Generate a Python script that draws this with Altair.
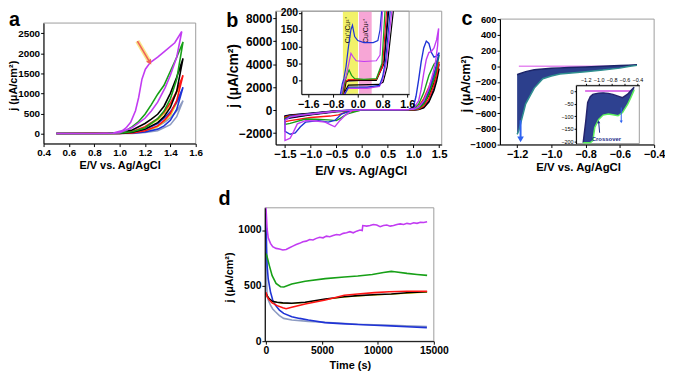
import altair as alt
import pandas as pd

FONT = "Liberation Sans"
W, H = 665, 368

# ---------------- series colours ----------------
SERIES = ["mag", "grn", "blk", "red", "yel", "blu", "gry", "nav"]
SERIES_COLORS = ["#c23cf2", "#17a017", "#000000", "#ff1414", "#e6e600", "#1f33d6", "#8d9bc2", "#141478"]
COLOR_SCALE = alt.Scale(domain=SERIES, range=SERIES_COLORS)

# ---------------- panel a : anodic LSV/CV loops ----------------
a_mag_x = [0.5, 0.8, 0.95, 1.0, 1.1, 1.2, 1.25, 1.3, 1.36, 1.4, 1.45, 1.49, 1.435, 1.357, 1.3, 1.241, 1.203, 1.176, 1.15, 1.125, 1.087, 1.05, 1.022, 0.95, 0.8, 0.5]
a_mag_y = [0, 0, 10, 20, 150, 380, 560, 780, 1150, 1450, 1900, 2540, 2260, 2054, 1900, 1765, 1601, 1354, 898, 569, 280, 140, 74, 15, 2, 0]
a_grn_x = [0.5, 0.9, 1.0, 1.1, 1.2, 1.3, 1.35, 1.4, 1.45, 1.5, 1.45, 1.4, 1.35, 1.3, 1.25, 1.2, 1.15, 1.1, 1.05, 1.0, 0.9, 0.5]
a_grn_y = [0, 0, 10, 45, 140, 370, 560, 860, 1350, 2280, 1900, 1550, 1200, 980, 720, 480, 300, 170, 70, 25, 3, 0]
a_blk_x = [0.5, 0.9, 1.0, 1.1, 1.2, 1.3, 1.35, 1.4, 1.45, 1.5, 1.45, 1.4, 1.35, 1.3, 1.25, 1.2, 1.1, 1.0, 0.9, 0.5]
a_blk_y = [0, 0, 5, 30, 110, 270, 420, 650, 1050, 1870, 1400, 1000, 680, 480, 360, 250, 90, 20, 2, 0]
a_red_x = [0.5, 1.0, 1.1, 1.2, 1.3, 1.35, 1.4, 1.45, 1.5, 1.45, 1.4, 1.35, 1.3, 1.2, 1.1, 1.0, 0.5]
a_red_y = [0, 3, 15, 70, 190, 320, 500, 820, 1450, 1050, 760, 530, 370, 170, 50, 10, 0]
a_yel_x = [0.5, 1.0, 1.1, 1.2, 1.3, 1.4, 1.45, 1.48, 1.45, 1.4, 1.35, 1.3, 1.2, 1.1, 1.0, 0.5]
a_yel_y = [0, 2, 12, 60, 160, 430, 750, 1250, 1000, 700, 480, 330, 140, 35, 8, 0]
a_blu_x = [0.5, 1.1, 1.2, 1.3, 1.35, 1.4, 1.45, 1.5, 1.45, 1.4, 1.35, 1.3, 1.2, 1.1, 1.0, 0.5]
a_blu_y = [0, 8, 40, 110, 190, 330, 600, 1150, 780, 540, 380, 250, 100, 25, 5, 0]
a_gry_x = [0.5, 1.1, 1.2, 1.3, 1.4, 1.45, 1.5, 1.45, 1.4, 1.35, 1.3, 1.2, 1.1, 1.0, 0.5]
a_gry_y = [0, 5, 25, 70, 220, 420, 820, 560, 390, 270, 180, 60, 15, 3, 0]
a_arrow_x = [1.14, 1.235]
a_arrow_y = [2300, 1790]

# ---------------- panel b : full CV ----------------
b_mag_x = [0.0, 0.5, 0.9, 1.0, 1.1, 1.15, 1.2, 1.25, 1.3, 1.35, 1.4, 1.45, 1.49, 1.47, 1.43, 1.38, 1.3, 1.2, 1.1, 1.0, 0.5, 0.0, -0.2, -0.34, -0.43, -0.53, -0.6, -0.72, -0.9, -1.1, -1.26, -1.33, -1.4, -1.5, -1.5, -1.4, -1.2, -0.9, -0.6, -0.3, 0.0]
b_mag_y = [20, 20, 20, 150, 800, 1800, 3200, 4400, 5000, 5100, 5400, 6100, 7100, 5600, 4200, 3200, 1900, 800, 250, 60, 30, 30, -50, -500, -900, -1450, -1300, -1050, -950, -920, -1200, -1850, -2450, -2650, -900, -600, -450, -300, -150, -30, 20]
b_blu_x = [0.0, 0.5, 0.9, 1.0, 1.05, 1.1, 1.15, 1.2, 1.25, 1.3, 1.35, 1.4, 1.45, 1.5, 1.45, 1.4, 1.3, 1.2, 1.1, 1.0, 0.5, 0.0, -0.2, -0.4, -0.53, -0.66, -0.85, -1.1, -1.2, -1.3, -1.4, -1.5, -1.5, -1.4, -1.2, -0.9, -0.6, -0.3, 0.0]
b_blu_y = [20, 20, 30, 300, 1200, 2600, 4200, 5400, 6000, 5800, 5000, 4600, 4700, 5000, 4000, 3100, 1800, 800, 250, 60, 30, 30, -20, -350, -900, -1050, -920, -1050, -1450, -1980, -2100, -1850, -800, -550, -420, -280, -130, -20, 20]
b_grn_x = [0.0, 0.5, 0.9, 1.0, 1.1, 1.2, 1.3, 1.4, 1.45, 1.5, 1.45, 1.4, 1.3, 1.2, 1.1, 1.0, 0.5, 0.0, -0.3, -0.4, -0.5, -0.66, -0.9, -1.1, -1.4, -1.5, -1.5, -1.4, -1.1, -0.6, 0.0]
b_grn_y = [10, 10, 20, 100, 500, 1500, 3000, 4000, 4200, 4800, 3600, 2700, 1400, 500, 150, 40, 20, 20, -350, -650, -920, -850, -800, -780, -1150, -1250, -700, -520, -380, -150, 10]
b_red_x = [0.0, 0.9, 1.0, 1.1, 1.2, 1.3, 1.4, 1.5, 1.45, 1.4, 1.3, 1.2, 1.1, 1.0, 0.0, -0.32, -0.46, -0.62, -1.0, -1.4, -1.5, -1.5, -1.4, -1.0, -0.5, 0.0]
b_red_y = [0, 10, 50, 300, 1000, 2000, 3200, 4200, 3000, 2200, 1000, 350, 80, 20, 10, -180, -420, -520, -650, -920, -1000, -600, -480, -330, -100, 0]
b_blk_x = [0.0, 0.9, 1.0, 1.1, 1.2, 1.3, 1.4, 1.5, 1.45, 1.4, 1.3, 1.2, 1.1, 1.0, 0.0, -0.5, -1.0, -1.4, -1.5, -1.5, -1.4, -1.0, -0.5, 0.0]
b_blk_y = [0, 0, 20, 150, 500, 1300, 2400, 3600, 2500, 1700, 700, 200, 50, 10, 0, -100, -380, -650, -700, -550, -450, -300, -80, 0]
b_nav_x = [0.0, 0.9, 1.0, 1.1, 1.2, 1.3, 1.4, 1.5, 1.45, 1.4, 1.3, 1.2, 1.1, 1.0, 0.0, -0.5, -1.0, -1.4, -1.5, -1.5, -1.4, -1.0, -0.5, 0.0]
b_nav_y = [0, 0, 40, 200, 700, 1600, 2800, 4000, 2900, 1900, 800, 250, 60, 10, 0, -150, -420, -700, -780, -500, -420, -280, -60, 0]

# inset of b (zoom on -40..200)
bi_blu_x = [-0.56, -0.5, -0.45, -0.38, -0.3, -0.22, -0.17, -0.1, 0.0, 0.2, 0.5, 0.65, 0.72, 0.77]
bi_blu_y = [-41, -10, 5, 40, 100, 150, 163, 130, 118, 112, 112, 118, 150, 205]
bi_mag_x = [-0.53, -0.45, -0.38, -0.3, -0.22, -0.15, -0.05, 0.2, 0.6, 0.72, 0.8]
bi_mag_y = [-41, -5, 10, 45, 80, 70, 58, 56, 58, 75, 205]
bi_grn_x = [-0.5, -0.42, -0.35, -0.28, -0.2, -0.1, 0.2, 0.6, 0.78, 0.88]
bi_grn_y = [-41, -5, 15, 31, 15, 5, 3, 5, 50, 205]
bi_red_x = [-0.48, -0.4, -0.3, 0.6, 0.8, 0.93]
bi_red_y = [-41, -3, 2, 3, 40, 205]
bi_blk_x = [-0.45, -0.38, -0.3, 0.6, 0.85, 1.0]
bi_blk_y = [-41, -5, 0, 0, 50, 205]
bi_nav_x = [-0.5, -0.4, 0.6, 0.85, 0.97]
bi_nav_y = [-41, -2, 2, 60, 205]
bi_blu_r_x = [1.05, 0.9, 0.8, 0.7, 0.3, -0.3, -0.42]
bi_blu_r_y = [205, 60, 10, -15, -20, -20, -41]
bi_mag_r_x = [1.1, 0.92, 0.8, 0.7, 0.3, -0.3, -0.44]
bi_mag_r_y = [205, 50, 0, -18, -24, -24, -41]
bi_blk_r_x = [1.15, 0.95, 0.82, 0.7, -0.3, -0.46]
bi_blk_r_y = [205, 40, -5, -12, -14, -41]
bi_yellow_band = [-0.48, 0.01]
bi_pink_band = [0.04, 0.45]
bi_labels = ["Cu⁺/Cu²⁺", "Cu/Cu²⁺"]
bi_label_x = [-0.3, 0.27]
bi_label_y = [148, 146]

# ---------------- panel c : repeated cathodic cycles (band) ----------------
c_band_x = [-1.2, -1.19, -1.15, -1.1, -1.05, -1.0, -0.95, -0.9, -0.8, -0.7, -0.6, -0.55, -0.5]
c_band_hi = [-110, -100, -70, -45, -35, -28, -22, -18, -10, 0, 8, 12, 18]
c_band_lo = [-870, -820, -480, -280, -160, -125, -100, -90, -70, -50, -25, -5, 10]
c_mag_x = [-1.19, -0.55]
c_mag_y = [0, 0]
c_arrow_x = [-1.18, -1.18]
c_arrow_y = [-690, -905]
c_head_y = -935

ci_band_x = [-1.24, -1.2, -1.17, -1.13, -1.09, -1.06, -1.0, -0.93, -0.85, -0.78, -0.7, -0.63, -0.55, -0.5, -0.45]
ci_band_hi = [-205, -120, -45, -22, -13, -11, -8, -7, -9, -13, -20, -26, -12, 2, 15]
ci_band_lo = [-205, -205, -205, -205, -196, -144, -112, -95, -91, -94, -98, -85, -52, -25, 5]
ci_mag_x = [-1.21, -0.47]
ci_mag_y = [0, 0]
ci_arrow1_x = [-0.985, -1.0]
ci_arrow1_y = [-165, -122]
ci_arrow2_x = [-0.65, -0.65]
ci_arrow2_y = [-65, -122]
ci_text = "Crossover"
ci_text_x = -0.88
ci_text_y = -188

# ---------------- panel d : chronoamperometry ----------------
d_mag_t = [0, 100, 200, 400, 600, 900, 1200, 1500, 1800, 2100, 2400, 2700, 3000, 3300, 3600, 3900, 4200, 4500, 4800, 5100, 5400, 5700, 6000, 6300, 6600, 6900, 7200, 7500, 7800, 8100, 8400, 8600, 8650, 9000, 9300, 9600, 9900, 10200, 10500, 10800, 11100, 11400, 11700, 12000, 12300, 12600, 12900, 13200, 13500, 13800, 14100, 14400]
d_mag_j = [1200, 1010, 930, 880, 850, 835, 830, 820, 825, 840, 855, 870, 880, 895, 900, 915, 910, 925, 935, 930, 945, 940, 950, 960, 955, 970, 975, 985, 975, 990, 1000, 995, 1040, 1035, 1040, 1050, 1045, 1030, 1040, 1045, 1035, 1040, 1050, 1055, 1050, 1060, 1055, 1065, 1060, 1070, 1068, 1075]
d_grn_t = [0, 100, 300, 550, 900, 1300, 1600, 2300, 3500, 5300, 7000, 8200, 9500, 10500, 11200, 11500, 12600, 13500, 14400]
d_grn_j = [790, 760, 680, 590, 520, 490, 488, 515, 540, 563, 578, 587, 600, 618, 628, 625, 610, 600, 592]
d_blk_t = [0, 100, 300, 550, 1000, 1500, 2300, 3500, 5300, 7000, 8200, 10000, 11200, 12600, 14400]
d_blk_j = [430, 410, 380, 360, 350, 345, 342, 350, 380, 400, 410, 420, 425, 435, 445]
d_red_t = [0, 100, 300, 550, 1000, 1500, 1800, 2300, 3500, 5300, 6300, 7000, 8200, 9700, 11000, 12600, 14400]
d_red_j = [440, 400, 370, 345, 320, 300, 292, 305, 335, 370, 395, 413, 425, 437, 445, 449, 449]
d_yel_t = [0, 100, 550, 1500, 2300, 3500, 5300, 7000, 8200, 10000, 12600, 14400]
d_yel_j = [420, 400, 355, 340, 338, 348, 376, 396, 406, 416, 430, 440]
d_blu_t = [0, 50, 100, 200, 400, 600, 840, 1200, 1580, 2310, 3000, 3790, 5260, 6700, 8200, 9700, 11140, 12600, 14380]
d_blu_j = [1150, 850, 680, 560, 444, 370, 324, 280, 250, 220, 205, 190, 167, 158, 150, 143, 138, 130, 122]
d_gry_t = [0, 50, 100, 200, 400, 600, 840, 1200, 1580, 2310, 3790, 5260, 8200, 11140, 14380]
d_gry_j = [800, 550, 413, 370, 324, 290, 265, 230, 205, 190, 178, 170, 152, 143, 131]


# ---------------- helpers ----------------
def lin(dom, rng):
    return alt.Scale(domain=dom, range=rng, nice=False, zero=False)


def make_axis(orient, position, values, fmt, title=None, tx=0, ty=0, lsize=10,
              tsize=11, tick=3, bold=True):
    # place the axis line at `position` (chart pixels) by offsetting it from its edge
    if orient == "bottom":
        off = -(H - position)
    else:  # left / top
        off = -position
    kw = dict(orient=orient, offset=off, values=values, format=fmt, grid=False,
              labelFont=FONT, labelFontSize=lsize,
              labelFontWeight="bold" if bold else "normal", labelColor="black",
              tickSize=tick, tickColor="black", tickWidth=1, domainColor="black",
              domainWidth=1, labelPadding=1, labelFlush=False, labelOverlap=False,
              zindex=1)
    if title is None:
        kw["title"] = ""
    else:
        kw.update(title=title, titleX=tx, titleY=ty, titleFont=FONT, titleFontSize=tsize,
                  titleFontWeight="bold", titleColor="black", titleBaseline="middle",
                  titleAlign="center", titleAngle=270 if orient in ("left", "right") else 0)
    return alt.Axis(**kw)


def curve(key, xs, ys, xsc, ysc, width, xaxis=None, yaxis=None):
    df = pd.DataFrame({"x": xs, "y": ys, "i": list(range(len(xs))), "s": key})
    return alt.Chart(df).mark_line(strokeWidth=width).encode(
        x=alt.X("x:Q", scale=xsc, axis=xaxis),
        y=alt.Y("y:Q", scale=ysc, axis=yaxis),
        order="i:Q",
        color=alt.Color("s:N", scale=COLOR_SCALE, legend=None),
    )


def box(xsc, ysc, xdom, ydom, stroke="#9c9c9c", fill_white=False):
    if fill_white:
        mk = alt.Chart(pd.DataFrame({"k": [0]})).mark_rect(color="white")
    else:
        mk = alt.Chart(pd.DataFrame({"k": [0]})).mark_rect(
            fillOpacity=0, stroke=stroke, strokeWidth=1)
    return mk.encode(
        x=alt.X(datum=xdom[0], type="quantitative", scale=xsc, axis=None),
        x2=alt.X2(datum=xdom[1]),
        y=alt.Y(datum=ydom[0], type="quantitative", scale=ysc, axis=None),
        y2=alt.Y2(datum=ydom[1]),
    )


def segment(xs, ys, xsc, ysc, color, width, opacity=1.0):
    df = pd.DataFrame({"x": [xs[0]], "y": [ys[0]], "x2": [xs[1]], "y2": [ys[1]]})
    return alt.Chart(df).mark_rule(color=color, strokeWidth=width, opacity=opacity).encode(
        x=alt.X("x:Q", scale=xsc, axis=None), y=alt.Y("y:Q", scale=ysc, axis=None),
        x2="x2:Q", y2="y2:Q")


def head(x, y, xsc, ysc, color, shape, size, angle=0):
    df = pd.DataFrame({"x": [x], "y": [y]})
    return alt.Chart(df).mark_point(shape=shape, filled=True, size=size, color=color,
                                    opacity=1, angle=angle).encode(
        x=alt.X("x:Q", scale=xsc, axis=None), y=alt.Y("y:Q", scale=ysc, axis=None))


def band(xs, hi, lo, xsc, ysc, fill, line_hi, line_lo, lw):
    df = pd.DataFrame({"x": xs, "hi": hi, "lo": lo})
    base = alt.Chart(df)
    area = base.mark_area(color=fill, opacity=1).encode(
        x=alt.X("x:Q", scale=xsc, axis=None), y=alt.Y("hi:Q", scale=ysc, axis=None),
        y2="lo:Q")
    up = base.mark_line(color=line_hi, strokeWidth=lw).encode(
        x=alt.X("x:Q", scale=xsc, axis=None), y=alt.Y("hi:Q", scale=ysc, axis=None))
    dn = base.mark_line(color=line_lo, strokeWidth=lw).encode(
        x=alt.X("x:Q", scale=xsc, axis=None), y=alt.Y("lo:Q", scale=ysc, axis=None))
    return [area, up, dn]


def simple_line(xs, ys, xsc, ysc, color, width, xaxis=None, yaxis=None):
    df = pd.DataFrame({"x": xs, "y": ys})
    return alt.Chart(df).mark_line(color=color, strokeWidth=width).encode(
        x=alt.X("x:Q", scale=xsc, axis=xaxis), y=alt.Y("y:Q", scale=ysc, axis=yaxis))


layers = []

# ---------------- panel a ----------------
A_XD, A_YD = [0.4, 1.6], [-250, 2750]
axs, ays = lin(A_XD, [36, 190]), lin(A_YD, [135, 13])
ax_a_x = make_axis("bottom", 135, [0.4, 0.6, 0.8, 1.0, 1.2, 1.4, 1.6], ".1f",
                   "E/V vs. Ag/AgCl", 113, 22, 10, 11)
ax_a_y = make_axis("left", 36, [0, 500, 1000, 1500, 2000, 2500], "d",
                   "j (μA/cm²)", -30, 76, 10, 11)
layers += [
    box(axs, ays, A_XD, A_YD),
    curve("gry", a_gry_x, a_gry_y, axs, ays, 1.6, ax_a_x, ax_a_y),
    curve("yel", a_yel_x, a_yel_y, axs, ays, 1.0),
    curve("blu", a_blu_x, a_blu_y, axs, ays, 1.6),
    curve("red", a_red_x, a_red_y, axs, ays, 1.6),
    curve("blk", a_blk_x, a_blk_y, axs, ays, 1.6),
    curve("grn", a_grn_x, a_grn_y, axs, ays, 1.6),
    curve("mag", a_mag_x, a_mag_y, axs, ays, 1.6),
    segment(a_arrow_x, a_arrow_y, axs, ays, "#f7e27a", 4.5, 0.9),
    segment(a_arrow_x, a_arrow_y, axs, ays, "#f0605a", 1.6),
    head(a_arrow_x[1], a_arrow_y[1], axs, ays, "#f0605a", "triangle", 35, 148),
]

# ---------------- panel b ----------------
B_XD, B_YD = [-1.68, 1.55], [-3000, 8600]
bxs, bys = lin(B_XD, [271, 439]), lin(B_YD, [136, 1])
ax_b_x = make_axis("bottom", 136, [-1.5, -1.0, -0.5, 0.0, 0.5, 1.0, 1.5], ".1f",
                   "E/V vs. Ag/AgCl", 357, 26, 11.5, 12.5)
ax_b_y = make_axis("left", 271, [-2000, 0, 2000, 4000, 6000, 8000], "d",
                   "j (μA/cm²)", -43, 66, 12, 14)
layers += [
    box(bxs, bys, B_XD, B_YD),
    curve("nav", b_nav_x, b_nav_y, bxs, bys, 1.4, ax_b_x, ax_b_y),
    curve("blk", b_blk_x, b_blk_y, bxs, bys, 1.4),
    curve("red", b_red_x, b_red_y, bxs, bys, 1.4),
    curve("grn", b_grn_x, b_grn_y, bxs, bys, 1.4),
    curve("blu", b_blu_x, b_blu_y, bxs, bys, 1.4),
    curve("mag", b_mag_x, b_mag_y, bxs, bys, 1.4),
]

BI_XD, BI_YD = [-1.82, 1.66], [-41, 205]
bixs, biys = lin(BI_XD, [297, 406]), lin(BI_YD, [85, 1])
ax_bi_x = make_axis("bottom", 85, [-1.6, -0.8, 0.0, 0.8, 1.6], ".1f", lsize=11)
ax_bi_y = make_axis("left", 297, [0, 50, 100, 150, 200], "d", lsize=10.5)


def vband(rng, color):
    df = pd.DataFrame({"x": [rng[0]], "x2": [rng[1]]})
    return alt.Chart(df).mark_rect(color=color, opacity=1).encode(
        x=alt.X("x:Q", scale=bixs, axis=None), x2="x2:Q",
        y=alt.Y(datum=BI_YD[0], type="quantitative", scale=biys, axis=None),
        y2=alt.Y2(datum=BI_YD[1]))


bi_text_df = pd.DataFrame({"t": bi_labels, "x": bi_label_x, "y": bi_label_y})
layers += [
    vband(bi_yellow_band, "#f2f26a"),
    vband(bi_pink_band, "#f7a6d6"),
    box(bixs, biys, BI_XD, BI_YD),
    alt.Chart(bi_text_df).mark_text(font=FONT, fontSize=7, angle=270, color="black",
                                    baseline="middle", align="center").encode(
        x=alt.X("x:Q", scale=bixs, axis=ax_bi_x), y=alt.Y("y:Q", scale=biys, axis=ax_bi_y),
        text="t:N"),
    curve("nav", bi_nav_x, bi_nav_y, bixs, biys, 1.2),
    curve("blk", bi_blk_x, bi_blk_y, bixs, biys, 1.2),
    curve("blk", bi_blk_r_x, bi_blk_r_y, bixs, biys, 1.2),
    curve("red", bi_red_x, bi_red_y, bixs, biys, 1.2),
    curve("grn", bi_grn_x, bi_grn_y, bixs, biys, 1.2),
    curve("mag", bi_mag_x, bi_mag_y, bixs, biys, 1.2),
    curve("mag", bi_mag_r_x, bi_mag_r_y, bixs, biys, 1.2),
    curve("blu", bi_blu_x, bi_blu_y, bixs, biys, 1.2),
    curve("blu", bi_blu_r_x, bi_blu_r_y, bixs, biys, 1.2),
]

# ---------------- panel c ----------------
C_XD, C_YD = [-1.3, -0.4], [-1000, 600]
cxs, cys = lin(C_XD, [498, 654]), lin(C_YD, [136, 9])
ax_c_x = make_axis("bottom", 136, [-1.2, -1.0, -0.8, -0.6, -0.4], ".1f",
                   "E/V vs. Ag/AgCl", 577, 23, 11, 11.5)
ax_c_y = make_axis("left", 498, list(range(-1000, 601, 200)), "d",
                   "j (μA/cm²)", -35, 74, 9.5, 12.5)
layers += [
    box(cxs, cys, C_XD, C_YD),
    simple_line(c_mag_x, c_mag_y, cxs, cys, "#e58af0", 1.5, ax_c_x, ax_c_y),
    *band(c_band_x, c_band_hi, c_band_lo, cxs, cys, "#2c3f8c", "#1c2468", "#2f8f8f", 1.5),
    segment(c_arrow_x, c_arrow_y, cxs, cys, "#2f62f0", 2),
    head(c_arrow_x[1], c_head_y, cxs, cys, "#2f62f0", "triangle-down", 45),
]

CI_XD, CI_YD = [-1.35, -0.37], [-208, 23]
cixs, ciys = lin(CI_XD, [575, 639]), lin(CI_YD, [135, 76])
ax_ci_x = make_axis("top", 76, [-1.2, -1.0, -0.8, -0.6, -0.4], ".1f", lsize=5.5, tick=2, bold=False)
ax_ci_y = make_axis("left", 575, [0, -50, -100, -150, -200], "d", lsize=5.5, tick=2, bold=False)
ci_text_df = pd.DataFrame({"t": [ci_text], "x": [ci_text_x], "y": [ci_text_y]})
layers += [
    box(cixs, ciys, CI_XD, CI_YD, fill_white=True),
    box(cixs, ciys, CI_XD, CI_YD),
    simple_line(ci_mag_x, ci_mag_y, cixs, ciys, "#d24ee0", 1.5, ax_ci_x, ax_ci_y),
    *band(ci_band_x, ci_band_hi, ci_band_lo, cixs, ciys, "#2e4190", "#24246e", "#5cf05c", 1.5),
    segment(ci_arrow1_x, ci_arrow1_y, cixs, ciys, "#1a2a8a", 1),
    head(ci_arrow1_x[1], ci_arrow1_y[1], cixs, ciys, "#1a2a8a", "triangle-up", 10),
    segment(ci_arrow2_x, ci_arrow2_y, cixs, ciys, "#2f62f0", 1),
    head(ci_arrow2_x[1], ci_arrow2_y[1], cixs, ciys, "#2f62f0", "triangle-down", 10),
    alt.Chart(ci_text_df).mark_text(font=FONT, fontSize=6, fontWeight="bold",
                                    color="#1a2a8a").encode(
        x=alt.X("x:Q", scale=cixs, axis=None), y=alt.Y("y:Q", scale=ciys, axis=None),
        text="t:N"),
]

# ---------------- panel d ----------------
D_XD, D_YD = [-100, 15000], [0, 1200]
dxs, dys = lin(D_XD, [260, 431]), lin(D_YD, [335, 200])
ax_d_x = make_axis("bottom", 335, [0, 5000, 10000, 15000], "d", "Time (s)", 346, 25, 10.5, 11)
ax_d_y = make_axis("left", 260, [0, 500, 1000], "d", "j (μA/cm²)", -36, 270, 10.5, 11)
layers += [
    box(dxs, dys, D_XD, D_YD),
    curve("gry", d_gry_t, d_gry_j, dxs, dys, 1.6, ax_d_x, ax_d_y),
    curve("blu", d_blu_t, d_blu_j, dxs, dys, 1.6),
    curve("yel", d_yel_t, d_yel_j, dxs, dys, 1.0),
    curve("blk", d_blk_t, d_blk_j, dxs, dys, 1.6),
    curve("red", d_red_t, d_red_j, dxs, dys, 1.6),
    curve("grn", d_grn_t, d_grn_j, dxs, dys, 1.6),
    curve("mag", d_mag_t, d_mag_j, dxs, dys, 1.6),
]


# ---------------- panel letters ----------------
def letter(t, px, py):
    return alt.Chart(pd.DataFrame({"k": [0]})).mark_text(
        text=t, font=FONT, fontSize=20, fontWeight="bold", color="black",
        align="left", baseline="alphabetic").encode(x=alt.value(px), y=alt.value(py))


layers += [letter("a", 1, 16), letter("b", 221, 17), letter("c", 459, 15), letter("d", 213, 197)]

chart = alt.layer(*layers).resolve_scale(x="independent", y="independent").properties(
    width=W, height=H, padding=0,
    autosize=alt.AutoSizeParams(type="none"),
).configure_view(strokeWidth=0)

chart.save("out.html", embed_options={"renderer": "svg", "actions": False})
